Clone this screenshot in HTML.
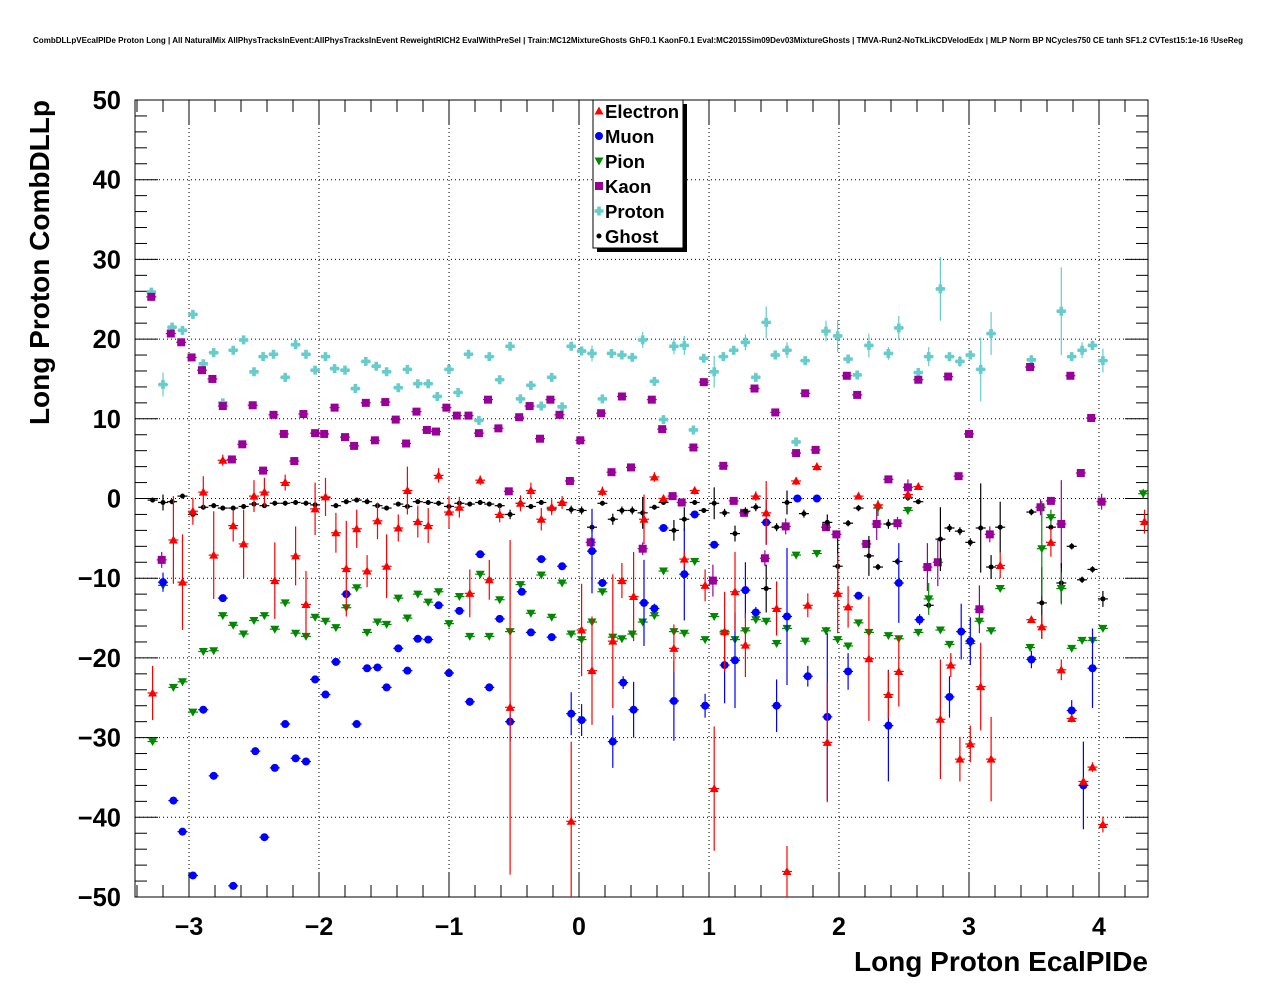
<!DOCTYPE html>
<html><head><meta charset="utf-8">
<style>
body{margin:0;background:#fff;width:1276px;height:996px;overflow:hidden;font-family:"Liberation Sans",Arial,sans-serif}
svg text{font-family:"Liberation Sans",Arial,sans-serif;font-weight:bold}
</style></head>
<body>
<svg id="chart" width="1276" height="996" xmlns="http://www.w3.org/2000/svg">
<text x="638" y="43" font-size="8" text-anchor="middle" textLength="1210" lengthAdjust="spacingAndGlyphs">CombDLLpVEcalPIDe Proton Long | All NaturalMix AllPhysTracksInEvent:AllPhysTracksInEvent ReweightRICH2 EvalWithPreSel | Train:MC12MixtureGhosts GhF0.1 KaonF0.1 Eval:MC2015Sim09Dev03MixtureGhosts | TMVA-Run2-NoTkLikCDVelodEdx | MLP Norm BP NCycles750 CE tanh SF1.2 CVTest15:1e-16 !UseReg</text>
<g id="grid"></g>
<g id="axes"></g>
<g id="marks" clip-path="url(#clip)"></g>
<defs><clipPath id="clip"><rect x="135" y="100" width="1013" height="797"/></clipPath></defs>
<text x="1148" y="971" font-size="28" text-anchor="end">Long Proton EcalPIDe</text>
<text transform="translate(49,100) rotate(-90)" font-size="28" text-anchor="end">Long Proton CombDLLp</text>
<g id="legend"></g>
</svg>
<script>
const xTicks=[-3,-2,-1,0,1,2,3,4];
const xTickLabels=["\u22123","\u22122","\u22121","0","1","2","3","4"];
const yTicks=[-50,-40,-30,-20,-10,0,10,20,30,40,50];
const yTickLabels=["\u221250","\u221240","\u221230","\u221220","\u221210","0","10","20","30","40","50"];
const seriesNames=["Electron","Muon","Pion","Kaon","Proton","Ghost"];

const protonX=[-3.29,-3.2,-3.13,-3.05,-2.97,-2.89,-2.81,-2.74,-2.66,-2.58,-2.5,-2.43,-2.35,-2.26,-2.18,-2.1,-2.03,-1.95,-1.88,-1.8,-1.72,-1.64,-1.56,-1.48,-1.39,-1.32,-1.24,-1.16,-1.09,-1.0,-0.93,-0.85,-0.77,-0.69,-0.61,-0.53,-0.45,-0.37,-0.29,-0.21,-0.13,-0.06,0.02,0.1,0.18,0.25,0.33,0.41,0.49,0.58,0.65,0.73,0.81,0.88,0.96,1.04,1.11,1.19,1.28,1.36,1.44,1.51,1.6,1.67,1.74,1.9,1.99,2.07,2.14,2.23,2.38,2.46,2.61,2.69,2.78,2.85,2.93,3.01,3.09,3.17,3.48,3.71,3.79,3.87,3.95,4.03];
const protonY=[25.9,14.3,21.5,21.1,23.1,16.9,18.3,12,18.6,19.9,15.9,17.8,18.1,15.2,19.3,18.1,16.1,17.8,16.3,16.1,13.8,17.2,16.6,15.9,13.9,16.2,14.4,14.4,12.8,16.2,13.3,18.1,9.8,17.8,14.9,19.1,12.5,14.2,11.6,15.2,11.5,19.1,18.5,18.2,12.5,18.2,18,17.7,19.9,14.7,9.9,19.1,19.2,8.6,17.6,15.9,17.8,18.6,19.6,15.2,22.1,18,18.6,7.1,17.3,21,20.4,17.5,15.5,19.2,18.2,21.4,15.8,17.8,26.3,17.8,17.2,18,16.2,20.7,17.4,23.5,17.8,18.6,19.2,17.3];
const protonErr=[0.5,1.5,0.5,0.5,0.5,0.5,0.5,0.5,0.5,0.5,0.5,0.5,0.5,0.5,0.5,0.5,0.5,0.5,0.5,0.5,0.5,0.5,0.5,0.5,0.5,0.5,0.5,0.5,0.5,0.5,0.5,0.5,0.5,0.5,0.5,0.5,0.5,0.5,0.5,0.5,0.5,0.5,0.5,1,0.5,0.5,0.5,0.5,1,0.5,0.5,1,1.2,0.5,0.5,2,0.5,0.5,1,0.5,2,0.5,1,0.5,0.5,1.3,2,0.5,0.5,1.5,0.8,1.5,0.6,1.2,4,0.5,0.7,0.5,4,2.7,0.6,5.5,0.5,1,0.6,1.5];

const kaonX=[-3.29,-3.21,-3.14,-3.06,-2.98,-2.9,-2.82,-2.74,-2.67,-2.59,-2.51,-2.43,-2.35,-2.27,-2.19,-2.12,-2.03,-1.96,-1.88,-1.8,-1.73,-1.64,-1.57,-1.49,-1.41,-1.33,-1.25,-1.17,-1.1,-1.02,-0.94,-0.85,-0.77,-0.7,-0.62,-0.54,-0.46,-0.38,-0.3,-0.22,-0.15,-0.07,0.01,0.09,0.17,0.25,0.33,0.4,0.49,0.56,0.64,0.72,0.79,0.88,0.96,1.03,1.11,1.19,1.27,1.35,1.43,1.51,1.59,1.67,1.74,1.82,1.9,1.98,2.06,2.14,2.21,2.29,2.38,2.45,2.53,2.61,2.68,2.76,2.84,2.92,3.0,3.08,3.16,3.47,3.55,3.63,3.71,3.78,3.86,3.94,4.02];
const kaonY=[25.3,-7.7,20.7,19.6,17.7,16.1,15,11.6,4.9,6.8,11.7,3.5,10.5,8.1,4.7,10.6,8.2,8.1,11.4,7.7,6.6,12,7.3,12.1,9.9,6.9,10.9,8.6,8.4,11.4,10.4,10.4,8.2,12.4,8.8,0.9,10.2,11.6,7.5,12.4,10.5,2.2,7.3,-5.5,10.7,3.3,12.8,3.9,-6.3,12.4,8.7,0.3,-0.5,6.4,14.6,-10.3,4.1,-0.3,-1.8,13.8,-7.5,10.8,-3.5,5.7,13.2,6.1,-3.6,-4.5,15.4,13,-5.7,-3.2,2.4,-3.1,1.4,14.9,-8.6,-8,15.3,2.8,8.1,-13.9,-4.5,16.5,-1.1,-0.3,-3.2,15.4,3.2,10.1,-0.4];
const kaonErr=[0.4,1,0.4,0.4,0.4,0.4,0.4,0.4,0.4,0.4,0.4,0.4,0.4,0.4,0.4,0.4,0.4,0.4,0.4,0.4,0.4,0.4,0.4,0.4,0.4,0.4,0.4,0.4,0.4,0.4,0.4,0.4,0.4,0.4,0.4,0.4,0.4,0.4,0.4,0.4,0.4,0.4,0.4,0.6,0.4,0.4,0.4,0.4,0.8,0.4,0.4,0.4,0.4,0.4,0.4,2,0.4,0.4,0.4,0.4,1,0.4,1,0.4,0.4,0.5,0.5,0.5,0.4,0.4,0.5,2,0.4,0.8,1,0.4,3,3,0.4,0.4,0.4,3,1,0.4,1,0.4,5.5,0.4,0.5,0.4,1];

const electronX=[-3.28,-3.12,-3.05,-2.97,-2.89,-2.81,-2.74,-2.66,-2.58,-2.5,-2.42,-2.34,-2.26,-2.18,-2.1,-2.03,-1.95,-1.87,-1.79,-1.71,-1.63,-1.55,-1.48,-1.39,-1.32,-1.24,-1.16,-1.08,-1.0,-0.92,-0.84,-0.76,-0.69,-0.61,-0.53,-0.45,-0.37,-0.29,-0.21,-0.13,-0.06,0.02,0.1,0.18,0.26,0.33,0.42,0.5,0.58,0.65,0.73,0.81,0.89,0.97,1.04,1.12,1.2,1.28,1.36,1.44,1.52,1.6,1.67,1.76,1.83,1.91,1.99,2.07,2.15,2.23,2.3,2.38,2.46,2.53,2.61,2.78,2.86,2.93,3.01,3.09,3.17,3.24,3.48,3.56,3.63,3.71,3.79,3.88,3.95,4.03,4.35];
const electronY=[-24.4,-5.2,-10.5,-1.6,0.8,-7.1,4.8,-3.4,-5.7,0.3,0.8,-10.3,2,-7.2,-13.3,-1.3,0.2,-4.3,-8.8,-3.8,-9.1,-2.8,-8.5,-3.7,1,-2.9,-3.4,2.9,-1.7,-1.1,-11.9,2.3,-10.2,-2,-26.2,-0.6,1,-2.6,-1.1,-0.5,-40.5,-16.5,-21.6,0.9,-17.9,-10.3,-12.3,-2.6,2.7,0,-18.8,-7.6,1,-10.9,-36.4,-16.7,-11.7,-18.4,0.3,-1.8,-13.8,-46.8,2.2,-13.4,4,-30.6,-11.9,-13.6,0.3,-20.1,-0.8,-24.6,-21.7,0.5,1.5,-27.7,-20.9,-32.7,-30.8,-23.6,-32.7,-8.4,-15.2,-16.1,-5.5,-21.5,-27.6,-35.5,-33.7,-40.9,-2.9];
const electronErr=[3.4,5.5,6,1.7,2,5.5,0.7,2,4.3,2,1.8,4.8,1,3.7,4.2,3.3,2.4,2.5,6,2.4,2,2.3,4,1.7,3,2,2.2,0.9,2,1.3,3,0.6,2.5,1,21,1,1,1.4,1,0.8,10,5.8,6.8,0.6,8.4,2.2,5.6,3.1,0.6,0.5,3,1,0.5,2,7.8,5,5,4,0.6,4,3.4,3.2,0.5,1.5,0.5,7.5,5,2.6,0.4,7.8,0.5,3,4.4,0.7,0.4,7.5,1.5,2.8,2.3,5.5,5.3,1.6,0.3,1.5,1.8,1.3,0.5,0.5,0.6,1,1.5];

const muonX=[-3.2,-3.12,-3.05,-2.97,-2.89,-2.81,-2.74,-2.66,-2.49,-2.42,-2.34,-2.26,-2.18,-2.1,-2.03,-1.95,-1.87,-1.79,-1.71,-1.63,-1.55,-1.48,-1.39,-1.32,-1.24,-1.16,-1.08,-1.0,-0.92,-0.84,-0.76,-0.69,-0.61,-0.53,-0.44,-0.37,-0.29,-0.21,-0.13,-0.06,0.02,0.1,0.18,0.26,0.34,0.42,0.5,0.58,0.65,0.73,0.81,0.89,0.97,1.04,1.12,1.2,1.28,1.36,1.44,1.52,1.6,1.68,1.76,1.83,1.91,2.07,2.15,2.38,2.46,2.62,2.85,2.94,3.01,3.48,3.79,3.88,3.95];
const muonY=[-10.5,-37.9,-41.8,-47.3,-26.5,-34.8,-12.5,-48.6,-31.7,-42.5,-33.8,-28.3,-32.6,-33,-22.7,-24.6,-20.5,-12,-28.3,-21.3,-21.2,-23.7,-18.8,-21.6,-17.6,-17.7,-13.4,-21.9,-14.1,-25.5,-7,-23.7,-15.1,-28,-11.7,-16.8,-7.6,-17.4,-8.5,-27,-27.8,-6.6,-10.6,-30.5,-23.1,-26.5,-13.1,-13.8,-3.7,-25.4,-9.5,-2,-26,-5.8,-20.9,-20.3,-11.5,-14.3,-3,-26,-14.8,0,-22.3,0,-27.4,-21.7,-12.2,-28.5,-10.6,-15.2,-24.9,-16.7,-17.9,-20.2,-26.6,-36,-21.3];
const muonErr=[1.2,0.4,0.4,0.4,0.4,0.4,0.4,0.4,0.4,0.4,0.4,0.4,0.4,0.4,0.4,0.4,0.4,0.4,0.4,0.4,0.4,0.4,0.4,0.4,0.4,0.4,0.4,0.4,0.4,0.5,0.4,0.5,0.4,2.5,0.4,0.4,0.4,0.4,0.4,2.7,2,5.3,0.5,3.3,0.8,3.5,5.4,0.6,0.4,5,5.8,0.4,1.5,0.4,4.8,6,3.5,0.7,2.8,3.3,8.6,0.4,1.3,0.4,10.5,2.3,0.5,7,5,0.7,2.6,3.5,3,1.1,1.3,5.5,5];

const pionX=[-3.28,-3.2,-3.12,-3.05,-2.97,-2.89,-2.81,-2.74,-2.66,-2.58,-2.5,-2.42,-2.34,-2.26,-2.18,-2.1,-2.03,-1.95,-1.87,-1.79,-1.71,-1.63,-1.55,-1.48,-1.39,-1.32,-1.24,-1.16,-1.08,-1.0,-0.92,-0.84,-0.76,-0.69,-0.61,-0.53,-0.45,-0.37,-0.29,-0.21,-0.13,-0.06,0.02,0.1,0.18,0.26,0.33,0.41,0.49,0.58,0.65,0.73,0.81,0.89,0.97,1.04,1.12,1.2,1.28,1.36,1.44,1.52,1.6,1.67,1.74,1.83,1.9,1.99,2.07,2.15,2.23,2.3,2.38,2.46,2.53,2.61,2.69,2.78,2.85,3.01,3.08,3.17,3.24,3.47,3.56,3.63,3.71,3.79,3.87,3.95,4.03,4.34];
const pionY=[-30.5,-10.9,-23.7,-23,-26.8,-19.2,-19.1,-14.7,-15.9,-17,-15.3,-14.7,-16.4,-13.1,-16.9,-17.3,-14.9,-15.4,-16.2,-13.7,-11.2,-16.8,-15.5,-15.8,-12.5,-15,-12,-13,-11.7,-15.7,-12.3,-17.3,-9.5,-17.3,-12.7,-16.7,-10.8,-14.4,-9.6,-14.9,-10.6,-17,-17.7,-15.5,-11.7,-17.4,-17.6,-17,-15.5,-14.7,-9.1,-16.7,-16.9,-7.9,-17.7,-14.8,-16.9,-17.7,-16.6,-15.2,-15.4,-18.2,-16.3,-7.1,-17.9,-6.9,-16.6,-17.7,-18.5,-15.6,-16.8,-1.2,-17.2,-17.6,-1.5,-16.8,-12.6,-16.5,-18.3,-18.2,-15.4,-16.6,-11.3,-18.7,-6.3,-2.4,-11.3,-18.8,-17.8,-17.8,-16.3,0.6];
const pionErr=[0.4,0.4,0.4,0.4,0.4,0.4,0.4,0.4,0.4,0.4,0.4,0.4,0.4,0.4,0.4,0.4,0.4,0.4,0.4,0.4,0.4,0.4,0.4,0.4,0.4,0.4,0.4,0.4,0.4,0.4,0.4,0.4,0.4,0.4,0.4,0.4,0.4,0.4,0.4,0.4,0.4,0.4,0.4,0.4,0.4,0.4,0.4,0.4,0.4,0.4,0.4,0.4,0.4,0.4,0.4,0.4,0.4,0.4,0.4,0.4,0.4,0.4,0.4,0.4,0.4,0.4,0.5,0.4,0.4,0.4,0.4,1,0.4,0.4,0.5,0.4,2,0.4,0.4,0.4,0.6,0.4,0.4,0.4,6,1,2,0.4,0.4,0.4,0.4,0.6];

const ghostX=[-3.28,-3.2,-3.13,-3.05,-2.97,-2.89,-2.81,-2.74,-2.66,-2.58,-2.5,-2.42,-2.34,-2.26,-2.18,-2.1,-2.03,-1.95,-1.87,-1.79,-1.71,-1.63,-1.55,-1.48,-1.39,-1.32,-1.24,-1.16,-1.08,-1.0,-0.92,-0.84,-0.76,-0.69,-0.61,-0.53,-0.45,-0.37,-0.29,-0.21,-0.13,-0.06,0.02,0.1,0.18,0.26,0.33,0.41,0.49,0.58,0.65,0.73,0.81,0.89,0.96,1.04,1.12,1.2,1.28,1.36,1.44,1.52,1.6,1.73,1.91,1.99,2.07,2.15,2.23,2.3,2.38,2.45,2.53,2.61,2.69,2.78,2.85,2.93,3.01,3.09,3.17,3.24,3.48,3.56,3.63,3.71,3.79,3.87,3.95,4.03];
const ghostY=[-0.2,-0.5,-0.4,0.3,-2,-1.1,-0.9,-1.2,-1.2,-1,-0.7,-0.9,-0.6,-0.6,-0.5,-0.6,-0.8,0.1,-0.9,-0.4,-0.2,-0.4,-0.9,-1.2,-0.7,-1,-0.4,-0.5,-0.6,-1,-0.6,-0.7,-0.5,-0.7,-0.9,-2,-0.6,-1,-0.5,-1.3,-0.5,-1.4,-1.5,-3.6,-0.6,-2.6,-1.5,-1.5,-1.8,-1.1,-0.5,-4,-2.6,-0.5,-1.5,-0.6,-1.8,-4.4,-1.6,-1.1,-11.3,-3.6,-0.5,-1.9,-3,-8.5,-3.1,-1.2,-7.2,-8.6,-3.2,-7.9,0.1,-0.4,-13.4,-5.1,-3.7,-4.1,-5.5,-3.7,-8.6,-3.6,-1.7,-13.1,-3.6,-10.6,-6,-10.2,-8.9,-12.6];
const ghostErr=[0.3,1,0.3,0.3,0.6,0.3,0.3,0.3,0.3,0.3,0.3,0.3,0.3,0.3,0.3,0.3,0.3,0.3,0.3,0.3,0.3,0.3,0.3,0.3,0.3,0.3,0.3,0.3,0.3,0.3,0.3,0.3,0.3,0.3,0.3,0.6,0.3,0.3,0.3,0.5,0.3,0.5,0.5,0.6,0.3,0.7,0.5,0.5,2,0.3,0.3,1.3,1.5,0.3,0.3,2,0.5,1,0.5,0.5,3,0.5,1.5,0.5,1,3.5,0.4,0.4,2.5,0.4,0.6,0.4,0.4,0.3,0.5,4,0.5,0.5,0.5,5.6,1.5,3.2,0.4,4.5,0.4,2.5,0.4,0.4,0.4,1];

const L=135,R=1148,T=100,B=897;
function X(v){return 579+v*130;}
function Y(v){return 498.5-v*7.97;}
const NS='http://www.w3.org/2000/svg';
function mk(tag,attrs,parent){const e=document.createElementNS(NS,tag);for(const k in attrs)e.setAttribute(k,attrs[k]);parent.appendChild(e);return e;}
const grid=document.getElementById('grid'),axes=document.getElementById('axes'),marks=document.getElementById('marks'),legend=document.getElementById('legend');

xTicks.forEach((t,i)=>{
  const g=mk('line',{x1:X(t),x2:X(t),y1:T,y2:B,stroke:'#000','stroke-width':1,'stroke-dasharray':'1,3'},grid);
  
  
  const tx=mk('text',{x:X(t),y:935,'font-size':25,'text-anchor':'middle'},axes);
  tx.textContent=xTickLabels[i];
  
  
});
yTicks.forEach((t,i)=>{
  if(t>-50&&t<50){const g=mk('line',{x1:L,x2:R,y1:Y(t),y2:Y(t),stroke:'#000','stroke-width':1,'stroke-dasharray':'1,3'},grid);
  
  }
  const tx=mk('text',{x:121,y:Y(t)+9,'font-size':25.5,'text-anchor':'end'},axes);
  tx.textContent=yTickLabels[i];
  
  
});
mk('rect',{x:L,y:T,width:R-L,height:B-T,fill:'none',stroke:'#000','stroke-width':1},axes);
for(let v=-50;v<=50;v+=2){const maj=v%10===0;const len=maj?23:12;
  mk('line',{x1:L,x2:L+len,y1:Y(v),y2:Y(v),stroke:'#000'},axes);
  mk('line',{x1:R,x2:R-len,y1:Y(v),y2:Y(v),stroke:'#000'},axes);}
for(let k=-17;k<=21;k++){const v=k*0.2;const maj=Math.abs(v-Math.round(v))<1e-6;const len=maj?24:12;const x=X(v);if(x<L||x>R)continue;
  mk('line',{x1:x,x2:x,y1:B,y2:B-len,stroke:'#000'},axes);
  mk('line',{x1:x,x2:x,y1:T,y2:T+len,stroke:'#000'},axes);}

function marker(kind,x,y,c,parent){
  if(kind==='tu')return mk('polygon',{points:`${x},${y-4.5} ${x-4.5},${y+3.5} ${x+4.5},${y+3.5}`,fill:c},parent);
  if(kind==='td')return mk('polygon',{points:`${x-4.5},${y-3.5} ${x+4.5},${y-3.5} ${x},${y+4.5}`,fill:c},parent);
  if(kind==='c')return mk('circle',{cx:x,cy:y,r:4,fill:c},parent);
  if(kind==='s')return mk('rect',{x:x-4,y:y-4,width:8,height:8,fill:c},parent);
  if(kind==='x')return mk('path',{d:`M${x-1.8},${y-4.5}h3.6v2.7h2.7v3.6h-2.7v2.7h-3.6v-2.7h-2.7v-3.6h2.7z`,fill:c},parent);
  return mk('circle',{cx:x,cy:y,r:2.5,fill:c},parent);
}
const series=[
 {name:'electron',xs:electronX,ys:electronY,es:electronErr,c:'#ff0000',m:'tu'},
 {name:'muon',xs:muonX,ys:muonY,es:muonErr,c:'#0000ff',m:'c'},
 {name:'pion',xs:pionX,ys:pionY,es:pionErr,c:'#008800',m:'td'},
 {name:'kaon',xs:kaonX,ys:kaonY,es:kaonErr,c:'#990099',m:'s'},
 {name:'proton',xs:protonX,ys:protonY,es:protonErr,c:'#66cccc',m:'x'},
 {name:'ghost',xs:ghostX,ys:ghostY,es:ghostErr,c:'#000000',m:'d'}];
const drawOrder=[4,3,5,2,1,0];
drawOrder.forEach(si=>{const s=series[si];
  const g=mk('g',{},marks);
  
  
  s.xs.forEach((xv,i)=>{const x=X(xv),y=Y(s.ys[i]),e=s.es[i]*7.97;
    mk('line',{x1:x-5,x2:x+5,y1:y,y2:y,stroke:s.c,'stroke-width':1.2},g);
    mk('line',{x1:x,x2:x,y1:y-e,y2:y+e,stroke:s.c,'stroke-width':1.2},g);
    const p=marker(s.m,x,y,s.c,g);
    
    
  });
});
mk('rect',{x:597,y:104,width:90,height:148,fill:'#000'},legend);
mk('rect',{x:593,y:100,width:90,height:148,fill:'#fff',stroke:'#000'},legend);
seriesNames.forEach((n,i)=>{const y=111+i*25;
  const e=mk('g',{},legend);
  
  
  marker(series[i].m,599,y,series[i].c,e);
  const t=mk('text',{x:605,y:y+7,'font-size':18.5},e);t.textContent=n;
});
</script>
</body></html>
